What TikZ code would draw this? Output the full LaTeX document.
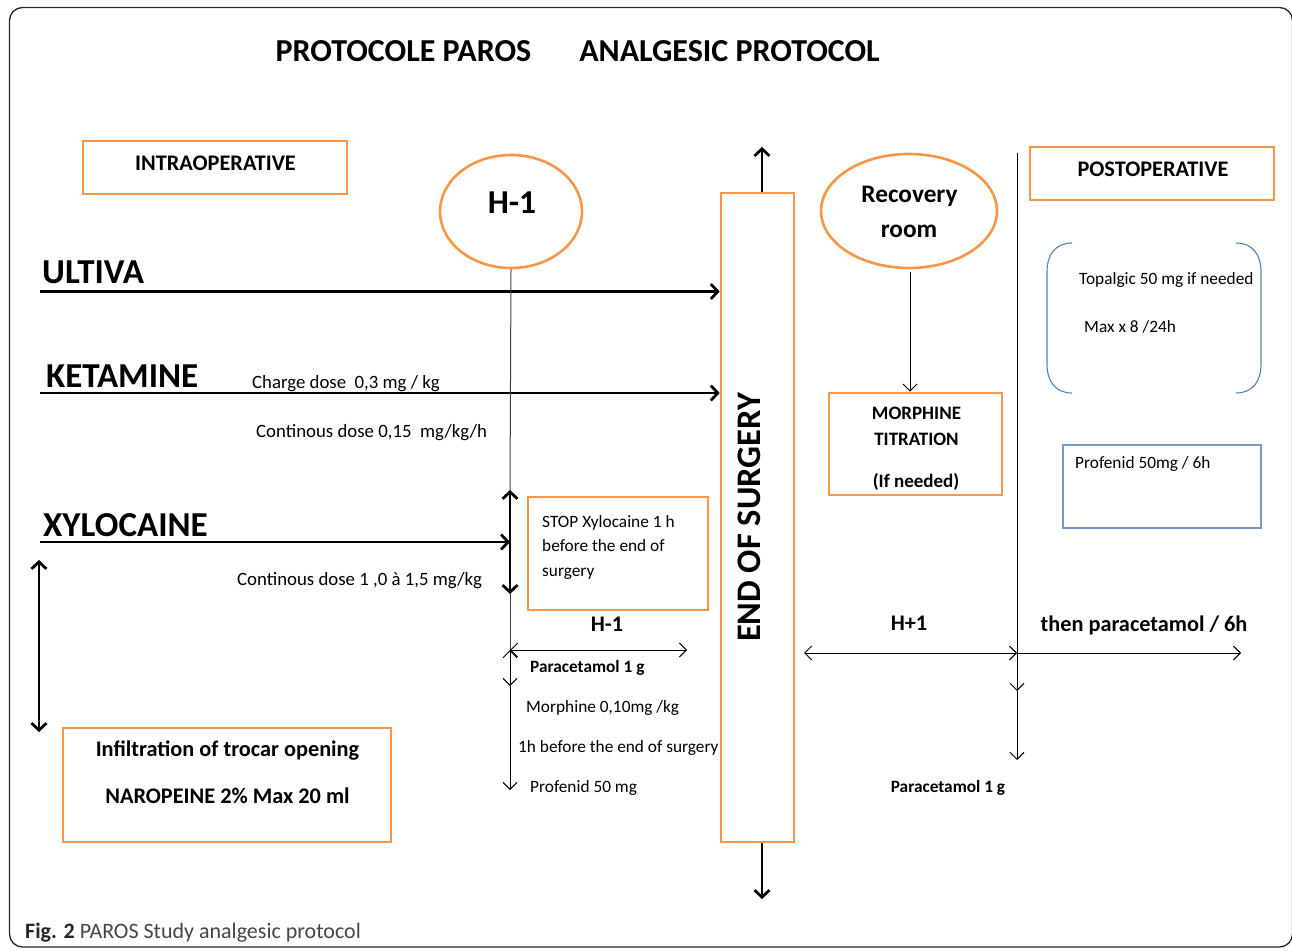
\documentclass[tikz,border=0pt]{standalone}
\usepackage{fontspec}
\setmainfont{Carlito}
\usetikzlibrary{arrows.meta,shapes.geometric}
\definecolor{orng}{RGB}{247,150,70}
\definecolor{blu}{RGB}{79,129,189}
\definecolor{lblu}{RGB}{120,152,205}
\definecolor{capgray}{RGB}{70,70,70}
\tikzset{
  obox/.style={draw=orng, line width=2.6pt, rectangle, inner sep=0pt},
  oell/.style={draw=orng, line width=2.6pt, ellipse, inner sep=0pt},
  txt/.style={inner sep=0pt, anchor=base},
  txtl/.style={inner sep=0pt, anchor=base west},
  big/.style={font=\fontsize{35}{40}\selectfont\bfseries},
  ttl/.style={font=\fontsize{32}{38}\selectfont\bfseries},
  hd/.style={font=\fontsize{22.3}{26}\selectfont\bfseries},
  sm/.style={font=\fontsize{17.3}{20}\selectfont},
  smk/.style={font=\fontsize{18.8}{22}\selectfont},
  smb/.style={font=\fontsize{17.3}{20}\selectfont\bfseries},
  mtb/.style={font=\fontsize{19}{22}\selectfont\bfseries},
  thickarr/.style={line width=2.8pt, -{Straight Barb[length=7pt,width=15pt,line width=2.8pt]}},
  thickdbl/.style={line width=2.8pt, {Straight Barb[length=7pt,width=15pt,line width=2.8pt]}-{Straight Barb[length=7pt,width=15pt,line width=2.8pt]}},
  thinarr/.style={line width=1pt, -{Straight Barb[length=7pt,width=14pt,line width=1pt]}},
  thindbl/.style={line width=1pt, {Straight Barb[length=7pt,width=14pt,line width=1pt]}-{Straight Barb[length=7pt,width=14pt,line width=1pt]}},
  thinline/.style={line width=1pt, black!75},
}
\begin{document}
\begin{tikzpicture}[x=1pt,y=-1pt]
\useasboundingbox (0,0) rectangle (1292,950);
% frame
\draw[line width=1.3pt, black!85, rounded corners=13pt] (9.5,7.5) rectangle (1292.5,947);

% titles
\node[txt, ttl] (t1) at (403.5,62) {PROTOCOLE PAROS};
\node[txt, ttl] (t2) at (729.5,62) {ANALGESIC PROTOCOL};

% intraoperative
\node[obox, minimum width=264pt, minimum height=53pt] (intra) at (215,167.5) {};
\node[txt, hd] (intraT) at (215.5,170) {INTRAOPERATIVE};

% H-1 ellipse
\node[oell, minimum width=142pt, minimum height=113pt] (h1) at (511,211.5) {};
\node[txt, font=\fontsize{33.4}{38}\selectfont\bfseries] (h1T) at (512,213) {H-1};

% drugs
\node[txtl, big] (ult) at (42,283) {ULTIVA};
\node[txtl, big] (ket) at (46,387) {KETAMINE};
\node[txtl, big] (xyl) at (43,536) {XYLOCAINE};
\coordinate (ultS) at (40,291.5);
\coordinate (ketS) at (40,393);
\coordinate (xylS) at (40,542);

% end of surgery
\node[obox, minimum width=73pt, minimum height=649pt] (eos) at (757.5,517.5) {};
\node[inner sep=0pt, rotate=90, font=\fontsize{34.4}{40}\selectfont\bfseries] (eosT) at (749,517.5) {END OF SURGERY};
\coordinate (eosUp) at (762,147);
\coordinate (eosDn) at (762,899);
\draw[thickarr] (eosUp |- eos.north) -- (eosUp);
\draw[thickarr] (eosDn |- eos.south) -- (eosDn);

\draw[thickarr] (ultS) -- (ultS -| eos.west);
\draw[thickarr] (ketS) -- (ketS -| eos.west);

% ketamine texts
\node[txtl, smk] (kc) at (252,388) {Charge dose\ \ 0,3 mg / kg};
\node[txtl, smk] (kd) at (256,437) {Continous dose 0,15\ \ mg/kg/h};

% H-1 vertical
\coordinate (xa1) at (510,490);
\coordinate (xa2) at (510,594);
\coordinate (p1) at (510,650);
\coordinate (p2) at (510,686);
\coordinate (p3) at (510,790);
\coordinate (p4) at (687,650);
\draw[thinline] (h1.south) -- (xa1);
\draw[thickdbl] (xa1) -- (xa2);
\draw[thinline] (xa2) -- (p1);
\draw[thindbl] (p1) -- (p2);
\draw[thinarr] (p2) -- (p3);
\draw[thindbl] (p1) -- (p4);
\draw[thickarr] (xylS) -- (xylS -| xa1);

\node[txtl, smk] (xd) at (237,585) {Continous dose 1 ,0 à 1,5 mg/kg};

% left double arrow
\coordinate (la1) at (39,560);
\coordinate (la2) at (39,732);
\draw[thickdbl] (la1) -- (la2);

% infiltration
\node[obox, minimum width=328pt, minimum height=114pt] (inf) at (227,785) {};
\node[txt, hd] (inf1) at (227.5,756) {Infiltration of trocar opening};
\node[txt, hd] (inf2) at (227.5,803) {NAROPEINE 2\% Max 20 ml};

% stop box
\node[obox, minimum width=180pt, minimum height=113pt] (stop) at (618,553.5) {};
\node[txtl, sm] (s1) at (542,527) {STOP Xylocaine 1 h};
\node[txtl, sm] (s2) at (542,551) {before the end of};
\node[txtl, sm] (s3) at (542,576) {surgery};

\node[txt, hd] (hm1) at (607,631) {H-1};
\node[txtl, smb] (para1) at (530,672) {Paracetamol 1 g};
\node[txtl, sm] (morph1) at (526,712) {Morphine 0,10mg /kg};
\node[txtl, sm] (oneh) at (518,752) {1h before the end of surgery};
\node[txtl, sm] (prof1) at (530,792) {Profenid 50 mg};

% recovery
\node[oell, minimum width=176pt, minimum height=114pt] (rec) at (909,211) {};
\node[txt, font=\fontsize{25.3}{30}\selectfont\bfseries] (rec1) at (909.5,202) {Recovery};
\node[txt, font=\fontsize{25.3}{30}\selectfont\bfseries] (rec2) at (909,237) {room};

% morphine titration
\node[obox, minimum width=173pt, minimum height=102pt] (mt) at (915.5,444) {};
\node[txt, mtb] (mt1) at (916.5,419) {MORPHINE};
\node[txt, mtb] (mt2) at (916.5,445) {TITRATION};
\node[txt, mtb] (mt3) at (916,487) {(If needed)};
\coordinate (ra) at (910,272);
\draw[thinarr] (ra) -- (ra |- mt.north);

% postop vertical
\coordinate (v1) at (1017,153);
\coordinate (v2) at (1017,691);
\coordinate (v3) at (1017,760);
\coordinate (hz) at (1017,653);
\coordinate (hl) at (804,653);
\coordinate (hr) at (1241,653);
\draw[thinarr] (v1) -- (v2);
\draw[thinarr] (v2) -- (v3);
\draw[thindbl] (hl) -- (hz);
\draw[thinarr] (hz) -- (hr);
\node[txt, hd] (hp1) at (909,630) {H+1};
\node[txt, hd] (then) at (1144,631) {then paracetamol / 6h};
\node[txt, smb] (para2) at (948,792) {Paracetamol 1 g};

% postoperative
\node[obox, minimum width=244pt, minimum height=53pt] (post) at (1152,173.5) {};
\node[txt, hd] (postT) at (1153,176) {POSTOPERATIVE};

% topalgic brackets
\draw[blu, line width=1.1pt] (1072,243) .. controls (1055,243) and (1047,255) .. (1047,272) -- (1047,364) .. controls (1047,381) and (1055,393) .. (1072,393);
\draw[blu, line width=1.1pt] (1236,243) .. controls (1253,243) and (1261,255) .. (1261,272) -- (1261,364) .. controls (1261,381) and (1253,393) .. (1236,393);
\node[txtl, sm] (top1) at (1079,284) {Topalgic 50 mg if needed};
\node[txtl, sm] (top2) at (1084,332) {Max x 8 /24h};

% profenid box
\node[draw=lblu, line width=1.1pt, minimum width=198pt, minimum height=83pt, inner sep=0pt] (pb) at (1162,486.5) {};
\node[txtl, sm] (pbT) at (1075,468) {Profenid 50mg / 6h};

% caption
\node[txtl, font=\fontsize{22}{26}\selectfont, text=capgray] (cap) at (25,938) {\textbf{\color{black!85}Fig. 2} PAROS Study analgesic protocol};
\end{tikzpicture}
\end{document}
